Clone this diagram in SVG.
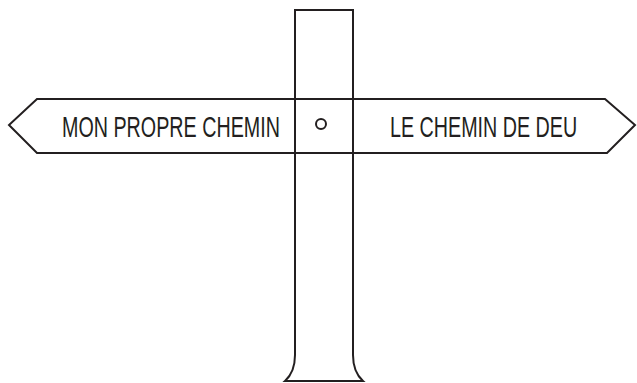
<svg xmlns="http://www.w3.org/2000/svg" width="637" height="383" viewBox="0 0 637 383">
<style>
.ln{fill:none;stroke:#231f20;stroke-width:2;stroke-linejoin:miter}
.t{font-family:"Liberation Sans",Arial,sans-serif;font-size:29px;fill:#231f20}
</style>
<rect width="637" height="383" fill="#fff"/>
<g id="sign">
<polygon class="ln" points="37,99 605,99 635,125 607,153 37,153 9,125" fill="#fff"/>
</g>
<g id="post">
<path class="ln" d="M285,381 Q295,372 295,355 L295,10 L353,10 L353,355 Q353,372 363,381 Z"/>
</g>
<g id="labels">
<g transform="scale(0.68,1)">
<text class="t" x="91.2" y="137.5">MON PROPRE CHEMIN</text>
<text class="t" x="573.5" y="137.5">LE CHEMIN DE DEU</text>
</g>
<circle class="ln" cx="321" cy="124" r="5"/>
</g>
</svg>
